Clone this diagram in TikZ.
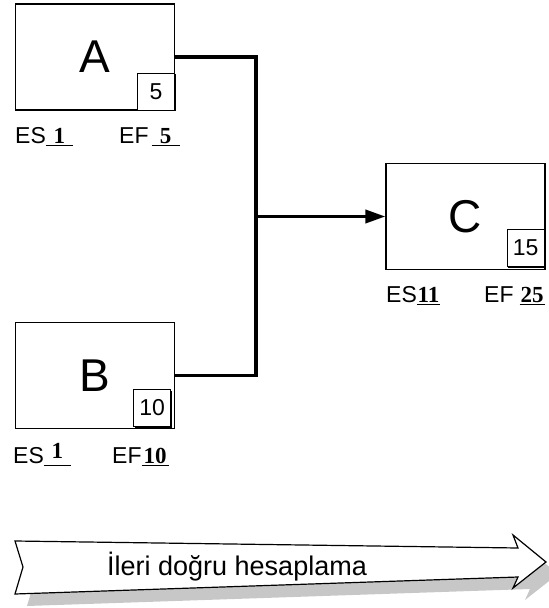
\documentclass[tikz,border=0pt]{standalone}
\usepackage{fontspec}
\setmainfont{Liberation Sans}
\newfontfamily\numfont{Liberation Serif}
\usetikzlibrary{arrows.meta,shadows}
\newcommand{\valslot}[2]{\makebox[#1]{\numfont\bfseries #2}\llap{\rule[-3pt]{#1}{1.2pt}}}

\begin{document}
\begin{tikzpicture}[x=1pt,y=-1pt]
\tikzset{task/.style={draw,line width=1.1pt,minimum width=159pt,minimum height=106pt,
                      inner sep=0pt,font=\fontsize{46}{46}\selectfont},
         dur/.style={draw,line width=1pt,fill=white,minimum size=37pt,inner sep=0pt,
                     anchor=south east,font=\fontsize{23}{23}\selectfont,
                     general shadow={fill=black,shadow xshift=1.3pt,shadow yshift=-1.3pt}},
         lbl/.style={anchor=base west,inner sep=0pt,font=\fontsize{23}{23}\selectfont},
         conn/.style={line width=3.5pt}}
%\tikzset{every node/.style={draw,
%                            minimum size=1cm
%                           }}
\useasboundingbox (0,0) rectangle (549,608);

% activities
\node[task] (A) at (95,57) {A};
\node[task] (B) at (95,375.5) {B};
\node[task] (C) at (465.5,216.5) {C};

\node[dur] (dA) at (A.south east) {5};
\node[dur] (dB) at ([shift={(-4,-2)}]B.south east) {10};
\node[dur] (dC) at ([shift={(-1,-3)}]C.south east) {15};

% early start / early finish
\node[lbl] (esA) at (15,143) {ES\valslot{27pt}{1}};
\node[lbl] (efA) at (119,143) {EF\hspace{3pt}\valslot{28pt}{5}};
\node[lbl] (esB) at (13,463) {ES\valslot{27pt}{\raisebox{5pt}{1}}};
\node[lbl] (efB) at (112,463) {EF\valslot{27pt}{10}};
\node[lbl] (esC) at (386,302) {ES\valslot{23pt}{11}};
\node[lbl] (efC) at (484,302) {EF\hspace{6pt}\valslot{25pt}{25}};

% connectors
\coordinate (jn) at (256,216.5);
\draw[conn] (A.east) -| (jn) |- (B.east);
\draw[conn,-{Triangle[length=20pt,width=13pt]}] (jn) -- (C.west);

% forward pass arrow
\fill[black!22] (27,553) -- (530,560) -- (525,547) -- (558,574) -- (525,600)
    -- (530,589) -- (27,606) -- (35,579) -- cycle;
\draw[line width=1.2pt,fill=white] (15,541) -- (518,548) -- (513,535) -- (546,562)
    -- (513,588) -- (518,577) -- (15,594) -- (23,567) -- cycle;
\node[anchor=base west,inner sep=0pt,font=\fontsize{27}{27}\selectfont] (fwd)
    at (107,575) {İleri doğru hesaplama};
\end{tikzpicture}
\end{document}
